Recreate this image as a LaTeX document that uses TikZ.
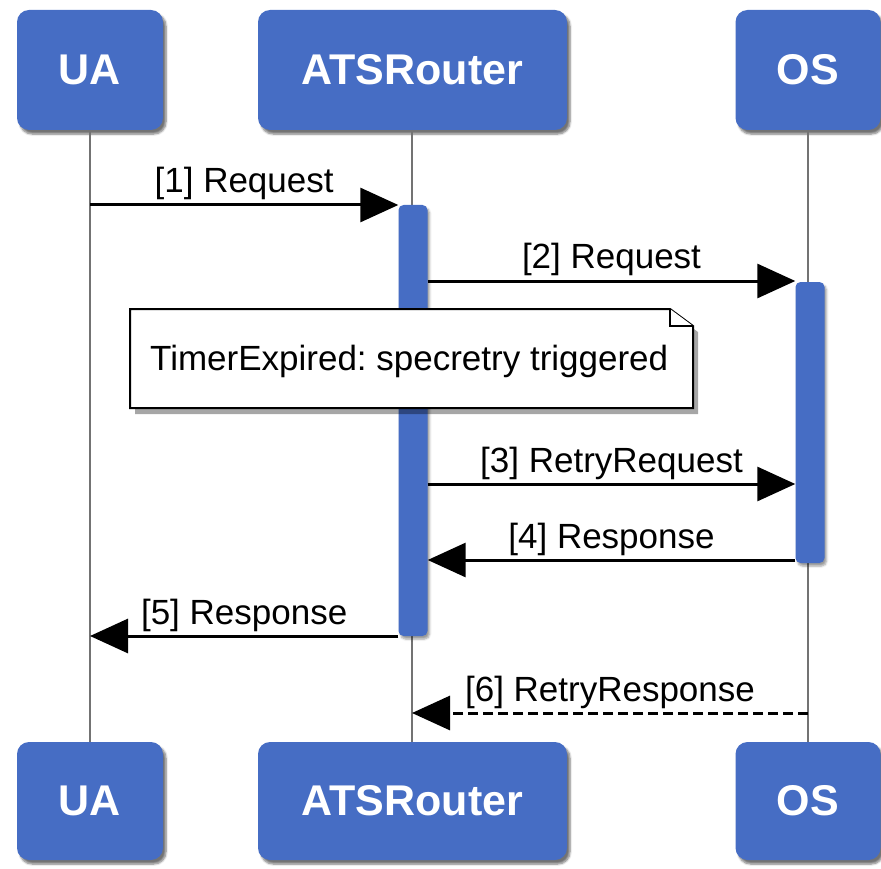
\documentclass[tikz,border=0pt]{standalone}
\usepackage{fontspec}
\setmainfont{Liberation Sans}
\usetikzlibrary{arrows.meta,shadows.blur,calc}
\definecolor{boxblue}{RGB}{70,109,196}
\definecolor{lifegray}{RGB}{115,115,115}
\tikzset{
  actor/.style={draw=none, fill=boxblue, rounded corners=12pt, inner sep=0pt,
    text=white, font=\fontsize{43}{46}\selectfont\bfseries,
    blur shadow={shadow xshift=3pt, shadow yshift=-4pt, shadow blur steps=6, shadow opacity=55}},
  lifeline/.style={draw=lifegray, line width=2.5pt},
  actbar/.style={draw=none, fill=boxblue, rounded corners=5pt, minimum width=29pt, inner sep=0pt,
    blur shadow={shadow xshift=2pt, shadow yshift=-3pt, shadow blur steps=4, shadow opacity=40}},
  msg/.style={line width=3pt, -{Triangle[length=38pt,width=34pt]}},
  retmsg/.style={msg, dash pattern=on 10pt off 5pt},
  msglabel/.style={anchor=base, inner sep=0pt, font=\fontsize{35}{40}\selectfont},
}
\begin{document}
\frenchspacing
\begin{tikzpicture}[x=1pt,y=-1pt]
\useasboundingbox (0,0) rectangle (881,869);
% actors
\node[actor, minimum width=146pt, minimum height=120pt] (uaT) at (90,70) {UA};
\node[actor, minimum width=309pt, minimum height=120pt] (atsT) at (412.5,70) {ATSRouter};
\node[actor, minimum width=145pt, minimum height=120pt] (osT) at (808,70) {OS};
\node[actor, minimum width=146pt, minimum height=118pt] (uaB) at (90,801) {UA};
\node[actor, minimum width=309pt, minimum height=118pt] (atsB) at (412.5,801) {ATSRouter};
\node[actor, minimum width=145pt, minimum height=118pt] (osB) at (808,801) {OS};
% lifelines
\draw[lifeline] (90,130) coordinate (uaL1) -- (90,742) coordinate (uaL2);
\draw[lifeline] (412,130) coordinate (atsL1) -- (412,742) coordinate (atsL2);
\draw[lifeline] (808,130) coordinate (osL1) -- (808,742) coordinate (osL2);
% activation bars
\node[actbar, minimum height=431pt] (atsA) at (413,420.5) {};
\node[actbar, minimum height=281pt] (osA) at (810,422.5) {};
% messages
\coordinate (m1s) at (90,205);
\draw[msg] (m1s) -- (atsA.west |- m1s) coordinate[pos=.5] (m1c);
\node[msglabel] (l1) at ($(m1c)+(0,-12)$) {[1] Request};
\coordinate (m2s) at (atsA.east |- 0,281);
\draw[msg] (m2s) -- (osA.west |- m2s) coordinate[pos=.5] (m2c);
\node[msglabel] (l2) at ($(m2c)+(0,-12)$) {[2] Request};
% note
\coordinate (nTL) at (130,309);
\coordinate (nBR) at (693,408);
\fill[black, opacity=.35] (135,314) -- (673,314) -- (698,332) -- (698,414) -- (135,414) -- cycle;
\draw[line width=2pt, fill=white] (nTL) -- (670,309) -- (693,326) -- (nBR |- 0,408) -- (130,408) -- cycle;
\draw[line width=1.5pt, fill=white] (670,309) -- (670,326) -- (693,326);
\node[anchor=base west, inner sep=0pt, font=\fontsize{35}{40}\selectfont] (note) at (150,370) {TimerExpired: specretry triggered};
% more messages
\coordinate (m3s) at (atsA.east |- 0,484);
\draw[msg] (m3s) -- (osA.west |- m3s) coordinate[pos=.5] (m3c);
\node[msglabel] (l3) at ($(m3c)+(0,-12)$) {[3] RetryRequest};
\coordinate (m4s) at (osA.west |- 0,560);
\draw[msg] (m4s) -- (atsA.east |- m4s) coordinate[pos=.5] (m4c);
\node[msglabel] (l4) at ($(m4c)+(0,-12)$) {[4] Response};
\coordinate (m5s) at (atsA.west |- 0,636);
\draw[msg] (m5s) -- (uaL1 |- m5s) coordinate[pos=.5] (m5c);
\node[msglabel] (l5) at ($(m5c)+(0,-12)$) {[5] Response};
\coordinate (m6s) at (osL1 |- 0,713);
\draw[retmsg] (m6s) -- (atsL1 |- m6s) coordinate[pos=.5] (m6c);
\node[msglabel] (l6) at ($(m6c)+(0,-12)$) {[6] RetryResponse};
\end{tikzpicture}
\end{document}
